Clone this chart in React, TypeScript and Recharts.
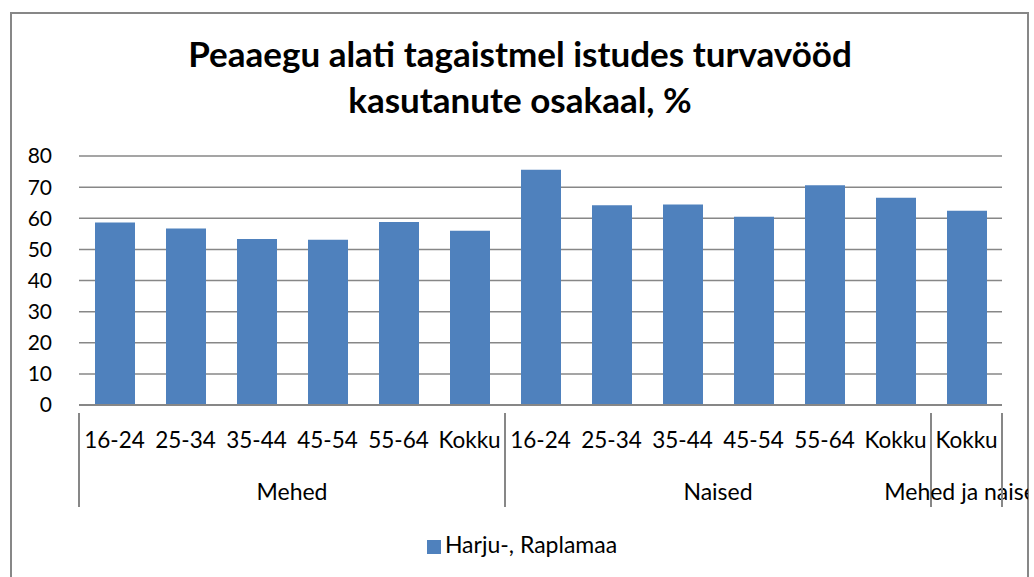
import React from 'react';
import { BarChart, Bar, XAxis, YAxis, CartesianGrid, Legend } from 'recharts';

const categories = ['16-24', '25-34', '35-44', '45-54', '55-64', 'Kokku', '16-24', '25-34', '35-44', '45-54', '55-64', 'Kokku', 'Kokku'];
const groupNames = ['Mehed', 'Naised', 'Mehed ja naised'];
const groupSizes = [6, 6, 1];
const values = [58.6, 56.7, 53.3, 53.1, 58.8, 56.0, 75.6, 64.2, 64.4, 60.5, 70.6, 66.6, 62.4];
const yTicks = [0, 10, 20, 30, 40, 50, 60, 70, 80];
const seriesName = 'Harju-, Raplamaa';

const data = categories.map((c, i) => ({ id: i, label: c, value: values[i] }));

const groupStarts: number[] = [];
{
  let acc = 0;
  groupSizes.forEach((s) => {
    groupStarts.push(acc);
    acc += s;
  });
}

const FONT = 'Lato, "Liberation Sans", sans-serif';
const GRAY = '#878787';

const XTick = (props: any) => {
  const { x, y, payload, index } = props;
  const bw = payload && payload.offset ? payload.offset * 2 : 923 / 13;
  const i = typeof index === 'number' ? index : payload.index;
  const left = x - bw / 2;
  const top = y;
  const gIdx = groupStarts.indexOf(i);
  const els: any[] = [];
  els.push(
    <text key="t" x={x} y={top + 35} textAnchor="middle" fontSize={22.5} fontFamily={FONT} fill="#000">
      {categories[i]}
    </text>
  );
  if (gIdx >= 0) {
    const n = groupSizes[gIdx];
    els.push(<line key="sep" x1={left} x2={left} y1={top} y2={top + 94} stroke={GRAY} strokeWidth={2} />);
    els.push(
      <text
        key="g"
        x={left + (n * bw) / 2}
        y={top + 87}
        textAnchor="middle"
        fontSize={23}
        fontFamily={FONT}
        fill="#000"
        clipPath="url(#clipRight)"
      >
        {groupNames[gIdx]}
      </text>
    );
  }
  if (i === categories.length - 1) {
    const right = x + bw / 2;
    els.push(<line key="end" x1={right} x2={right} y1={top} y2={top + 94} stroke={GRAY} strokeWidth={2} />);
  }
  return <g>{els}</g>;
};

export default function App() {
  return (
    <div style={{ position: 'absolute', left: 0, top: 0, width: 1034, height: 577, overflow: 'hidden', background: '#fff' }}>
      <svg width={0} height={0} style={{ position: 'absolute' }}>
        <defs>
          <clipPath id="clipRight" clipPathUnits="userSpaceOnUse">
            <rect x={0} y={0} width={1028} height={577} />
          </clipPath>
        </defs>
      </svg>
      <div
        style={{
          position: 'absolute',
          left: 10,
          top: 12,
          width: 1019,
          height: 620,
          border: `2px solid ${GRAY}`,
          boxSizing: 'border-box',
        }}
      />
      <div
        style={{
          position: 'absolute',
          left: 0,
          top: 30,
          width: 1040,
          textAlign: 'center',
          fontFamily: FONT,
          fontWeight: 700,
          fontSize: 35,
          lineHeight: '46px',
          color: '#000',
        }}
      >
        Peaaegu alati tagaistmel istudes turvavööd
        <br />
        kasutanute osakaal, %
      </div>
      <div style={{ position: 'absolute', left: 0, top: 0 }}>
        <BarChart width={1034} height={577} data={data} margin={{ top: 156, right: 32, left: 0, bottom: 72 }}>
          <CartesianGrid vertical={false} horizontal={true} stroke={GRAY} strokeWidth={1.5} />
          <XAxis
            dataKey="id"
            type="category"
            height={100}
            interval={0}
            tickLine={false}
            axisLine={{ stroke: GRAY, strokeWidth: 2 }}
            tick={<XTick />}
          />
          <YAxis
            width={79}
            domain={[0, 80]}
            ticks={yTicks}
            interval={0}
            axisLine={false}
            tickLine={false}
            tickSize={0}
            tickMargin={27}
            tick={{ fontSize: 21, fontFamily: FONT, fill: '#000' }}
          />
          <Legend
            layout="horizontal"
            verticalAlign="middle"
            align="center"
            iconType="square"
            iconSize={14}
            wrapperStyle={{ top: 530, left: 10, width: 1034, fontFamily: FONT, fontSize: 23 }}
            formatter={(v: any) => <span style={{ color: '#000' }}>{v}</span>}
          />
          <Bar dataKey="value" name={seriesName} fill="#4F81BD" barSize={40} isAnimationActive={false} />
        </BarChart>
      </div>
    </div>
  );
}
